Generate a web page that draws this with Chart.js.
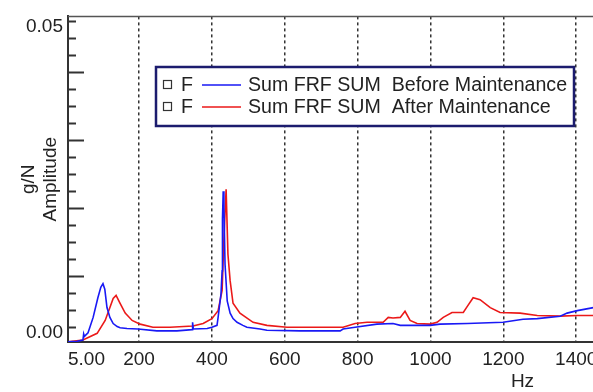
<!DOCTYPE html>
<html>
<head>
<meta charset="utf-8">
<script src="https://cdn.jsdelivr.net/npm/chart.js@4.4.1/dist/chart.umd.min.js"></script>
<style>
  html, body { margin: 0; padding: 0; background: #fff; overflow: hidden; }
  canvas { display: block; }
</style>
</head>
<body>
<canvas id="frf" width="977" height="392" style="width:977px;height:392px"></canvas>
<script>
// Sum FRF, before / after maintenance (Hz, g/N)
const freqBefore = [5, 30, 46, 48, 50, 60, 74, 87, 95, 101, 106, 112, 120, 129, 140, 148, 167, 197, 249, 285, 304, 346, 347, 349, 387, 400, 414, 417, 425, 428, 429, 431, 433, 436, 442, 450, 458, 469, 485, 496, 532, 551, 642, 752, 760, 793, 853, 897, 917, 999, 1026, 1101, 1199, 1254, 1293, 1356, 1375, 1403, 1447];
const ampBefore = [-0.0024, -0.0023, -0.0021, -0.0011, -0.0015, -0.0009, 0.0016, 0.0048, 0.0065, 0.0071, 0.0062, 0.0032, 0.0016, 0.0006, 0.0001, -0.0001, -0.0002, -0.0003, -0.0006, -0.0006, -0.0006, -0.0004, 0.0008, -0.0003, -0.0002, 0.0000, 0.0003, 0.0016, 0.0055, 0.0092, 0.0177, 0.0222, 0.0195, 0.0103, 0.0043, 0.0023, 0.0014, 0.0008, 0.0003, 0.0000, -0.0003, -0.0005, -0.0006, -0.0006, -0.0003, 0.0000, 0.0005, 0.0006, 0.0003, 0.0003, 0.0005, 0.0006, 0.0008, 0.0013, 0.0014, 0.0018, 0.0023, 0.0027, 0.0032];

const freqAfter = [5, 46, 85, 107, 120, 129, 137, 148, 162, 181, 203, 238, 285, 348, 376, 400, 417, 428, 433, 439, 444, 450, 458, 477, 513, 551, 606, 760, 793, 826, 870, 884, 897, 917, 930, 944, 963, 999, 1018, 1035, 1059, 1090, 1101, 1117, 1136, 1164, 1191, 1246, 1293, 1356, 1403, 1447];
const ampAfter = [-0.0024, -0.0021, -0.0010, 0.0011, 0.0032, 0.0047, 0.0052, 0.0039, 0.0023, 0.0011, 0.0005, 0.0000, 0.0000, 0.0002, 0.0006, 0.0014, 0.0027, 0.0060, 0.0145, 0.0225, 0.0119, 0.0076, 0.0039, 0.0023, 0.0008, 0.0003, 0.0000, 0.0000, 0.0006, 0.0008, 0.0008, 0.0016, 0.0015, 0.0016, 0.0026, 0.0011, 0.0006, 0.0005, 0.0008, 0.0016, 0.0024, 0.0024, 0.0034, 0.0048, 0.0045, 0.0032, 0.0024, 0.0023, 0.0019, 0.0018, 0.0019, 0.0019];

const seriesNames = ['Sum FRF SUM  Before Maintenance', 'Sum FRF SUM  After Maintenance'];
const seriesColors = ['rgb(25,25,245)', 'rgb(235,25,25)'];

const xTicks = [5, 200, 400, 600, 800, 1000, 1200, 1400, 1600, 1800, 2000, 2200, 2400];
const yTickLabels = ['0.00', '0.05'];

const FONT = 'Arial, "Liberation Sans", sans-serif';
const INK = '#222';

function toPoints(xs, ys) {
    return xs.map((x, i) => ({x: x, y: ys[i]}));
}

// y ticks: 18 small steps between 0.00 and 0.05, long mark every 4th
const Y_STEPS = 18;

const frame = {
    id: 'frame',
    afterDatasetsDraw(chart) {
        const ctx = chart.ctx;
        const area = chart.chartArea;
        const y = chart.scales.y;
        ctx.save();
        ctx.strokeStyle = '#333';
        ctx.lineWidth = 2;
        y.ticks.forEach((t, k) => {
            const py = Math.round(y.getPixelForValue(t.value)) + 0.5;
            const len = (k % 4 === 3) ? 16 : 8;
            ctx.beginPath();
            ctx.moveTo(area.left, py);
            ctx.lineTo(area.left + len, py);
            ctx.stroke();
        });
        // top frame line
        ctx.strokeStyle = '#555';
        ctx.lineWidth = 1.5;
        ctx.beginPath();
        ctx.moveTo(area.left, area.top);
        ctx.lineTo(area.right, area.top);
        ctx.stroke();
        ctx.restore();
    },
    afterDraw(chart) {
        const ctx = chart.ctx;
        const box = {left: 156, top: 67, right: 574, bottom: 126};
        ctx.save();
        ctx.fillStyle = '#fff';
        ctx.fillRect(box.left, box.top, box.right - box.left, box.bottom - box.top);
        ctx.strokeStyle = '#1c1c6e';
        ctx.lineWidth = 2.5;
        ctx.strokeRect(box.left, box.top, box.right - box.left, box.bottom - box.top);

        ctx.font = '19.6px ' + FONT;
        ctx.textBaseline = 'middle';
        chart.data.datasets.forEach((ds, i) => {
            const cy = box.top + 18 + i * 22;
            ctx.strokeStyle = '#333';
            ctx.lineWidth = 1.2;
            ctx.strokeRect(163.5, cy - 4.5, 8, 8);
            ctx.fillStyle = INK;
            ctx.fillText('F', 181, cy + 1);
            ctx.strokeStyle = ds.borderColor;
            ctx.lineWidth = 1.5;
            ctx.beginPath();
            ctx.moveTo(202, cy);
            ctx.lineTo(241, cy);
            ctx.stroke();
            ctx.fillStyle = INK;
            ctx.fillText(ds.label, 248, cy + 1);
        });
        ctx.restore();
    }
};

new Chart(document.getElementById('frf'), {
    type: 'line',
    data: {
        datasets: [
            {
                label: seriesNames[0],
                data: toPoints(freqBefore, ampBefore),
                borderColor: seriesColors[0],
                borderWidth: 1.6,
                pointRadius: 0,
                tension: 0
            },
            {
                label: seriesNames[1],
                data: toPoints(freqAfter, ampAfter),
                borderColor: seriesColors[1],
                borderWidth: 1.6,
                pointRadius: 0,
                tension: 0
            }
        ]
    },
    options: {
        responsive: false,
        animation: false,
        layout: {padding: 0},
        plugins: {
            legend: {display: false},
            tooltip: {enabled: false}
        },
        scales: {
            x: {
                type: 'linear',
                min: 5,
                max: 2500,
                afterBuildTicks: (s) => { s.ticks = xTicks.map(v => ({value: v})); },
                afterFit: (s) => { s.height = 50; },
                ticks: {
                    align: 'inner',
                    autoSkip: false,
                    maxRotation: 0,
                    padding: 6,
                    color: INK,
                    font: {family: FONT, size: 19},
                    callback: (v) => (v === 5 ? '5.00' : String(v))
                },
                grid: {
                    drawTicks: false,
                    lineWidth: 1.5,
                    color: (c) => (c.index === 0 ? 'rgba(0,0,0,0)' : '#333')
                },
                border: {display: true, color: '#333', width: 2, dash: [3, 3]},
                title: {
                    display: true,
                    text: 'Hz',
                    color: INK,
                    font: {family: FONT, size: 19},
                    padding: {top: 0, bottom: -1}
                }
            },
            y: {
                min: -0.002415,
                max: 0.05072,
                afterBuildTicks: (s) => {
                    const t = [];
                    for (let k = 0; k <= Y_STEPS; k++) t.push({value: 0.05 * k / Y_STEPS});
                    s.ticks = t;
                },
                afterFit: (s) => { s.width = 68; },
                ticks: {
                    autoSkip: false,
                    padding: 5,
                    labelOffset: 6,
                    color: INK,
                    font: {family: FONT, size: 19},
                    callback: (v, i) => (i === 0 ? yTickLabels[0] : (i === Y_STEPS ? yTickLabels[1] : ''))
                },
                grid: {display: false, drawTicks: false},
                border: {display: true, color: '#333', width: 2},
                title: {
                    display: true,
                    text: ['g/N', 'Amplitude'],
                    color: INK,
                    font: {family: FONT, size: 19, lineHeight: 1.2},
                    padding: {top: 17, bottom: 0}
                }
            }
        }
    },
    plugins: [frame]
});
</script>
</body>
</html>
